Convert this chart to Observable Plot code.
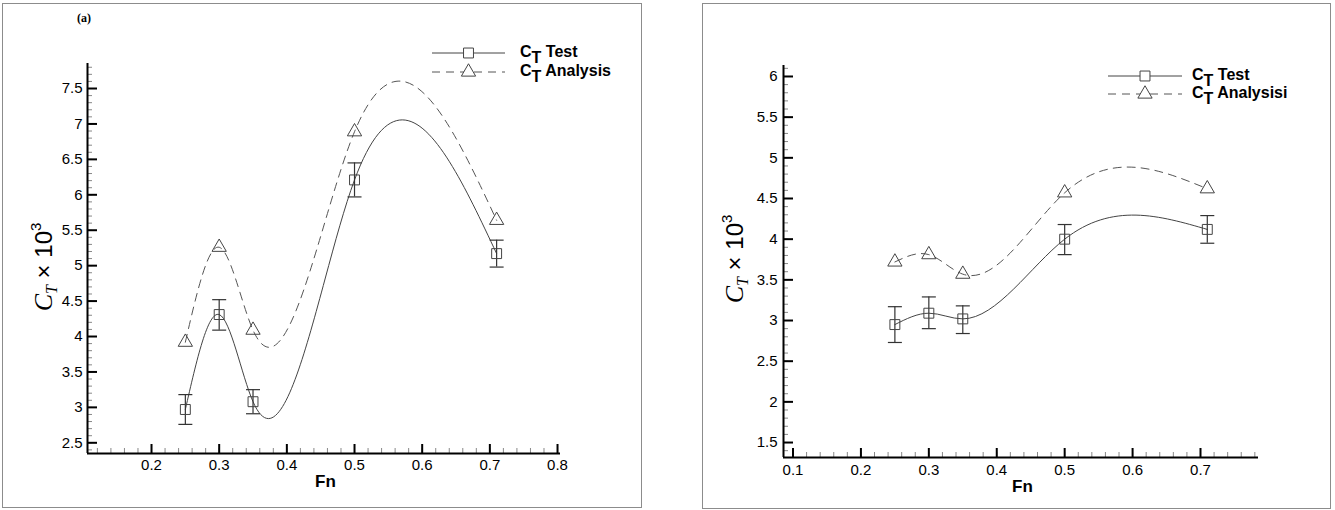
<!DOCTYPE html>
<html><head><meta charset="utf-8">
<script src="https://cdn.jsdelivr.net/npm/d3@7"></script>
<script src="https://cdn.jsdelivr.net/npm/@observablehq/plot@0.6"></script>
<style>
html,body{margin:0;padding:0;background:#fff;}
#root{position:relative;width:1335px;height:510px;overflow:hidden;font-family:"Liberation Sans",Arial,sans-serif;}
.frame{position:absolute;border:1px solid #8c8c8c;box-sizing:border-box;}
.panel{position:absolute;top:0;}
.panel svg{max-width:none;background:transparent;}
</style></head><body><div id="root"></div>
<script>
// ---------- data ----------
const fn = [0.25, 0.30, 0.35, 0.50, 0.71];
// panel (a)
const testA     = [2.97, 4.31, 3.08, 6.21, 5.17];
const testALo   = [2.76, 4.09, 2.91, 5.97, 4.98];
const testAHi   = [3.18, 4.52, 3.25, 6.45, 5.36];
const analysisA = [3.92, 5.26, 4.09, 6.89, 5.64];
// panel (b)
const testB     = [2.95, 3.09, 3.02, 4.00, 4.12];
const testBLo   = [2.73, 2.90, 2.84, 3.81, 3.95];
const testBHi   = [3.17, 3.29, 3.18, 4.18, 4.29];
const analysisB = [3.72, 3.81, 3.57, 4.57, 4.62];
// tick labels
const xTicksA = [0.2, 0.3, 0.4, 0.5, 0.6, 0.7, 0.8];
const yTicksA = [2.5, 3, 3.5, 4, 4.5, 5, 5.5, 6, 6.5, 7, 7.5];
const xTicksB = [0.1, 0.2, 0.3, 0.4, 0.5, 0.6, 0.7];
const yTicksB = [1.5, 2, 2.5, 3, 3.5, 4, 4.5, 5, 5.5, 6];
const legendA = ["Test", "Analysis"];
const legendB = ["Test", "Analysisi"];
const axisXLabel = "Fn";
const panelTag = "(a)";

// natural cubic spline y(x) curve (Tecplot-style spline)
function splineX(context) {
  let xs, ys;
  return {
    areaStart() {}, areaEnd() {},
    lineStart() { xs = []; ys = []; },
    point(x, y) { xs.push(+x); ys.push(+y); },
    lineEnd() {
      const n = xs.length;
      if (!n) return;
      context.moveTo(xs[0], ys[0]);
      if (n === 1) return;
      if (n === 2) { context.lineTo(xs[1], ys[1]); return; }
      const h = [], s = [];
      for (let i = 0; i < n - 1; i++) { h[i] = xs[i + 1] - xs[i]; s[i] = (ys[i + 1] - ys[i]) / h[i]; }
      const m = n - 2, a = [], b = [], c = [], d = [];
      for (let k = 0; k < m; k++) {
        const i = k + 1;
        a[k] = h[i - 1]; b[k] = 2 * (h[i - 1] + h[i]); c[k] = h[i]; d[k] = 6 * (s[i] - s[i - 1]);
      }
      for (let k = 1; k < m; k++) { const w = a[k] / b[k - 1]; b[k] -= w * c[k - 1]; d[k] -= w * d[k - 1]; }
      const M = new Array(n).fill(0);
      for (let k = m - 1; k >= 0; k--) M[k + 1] = (d[k] - (k < m - 1 ? c[k] * M[k + 2] : 0)) / b[k];
      for (let i = 0; i < n - 1; i++) {
        const d0 = s[i] - h[i] * (2 * M[i] + M[i + 1]) / 6;
        const d1 = s[i] + h[i] * (M[i] + 2 * M[i + 1]) / 6;
        context.bezierCurveTo(xs[i] + h[i] / 3, ys[i] + d0 * h[i] / 3,
                              xs[i + 1] - h[i] / 3, ys[i + 1] - d1 * h[i] / 3,
                              xs[i + 1], ys[i + 1]);
      }
    }
  };
}

const capSymbol = { draw(ctx, size) { const w = Math.sqrt(size / Math.PI); ctx.moveTo(-w, 0); ctx.lineTo(w, 0); } };

const SANS = "Liberation Sans, Arial, sans-serif";
const SERIF = "Liberation Serif, Times New Roman, serif";
const LINE = "#444", DASH = "#555";

function minor(domain, step) {
  const out = [];
  for (let k = Math.ceil(domain[0] / step - 1e-9); k * step <= domain[1] + 1e-9; k++) out.push(+(k * step).toFixed(4));
  return out;
}

function makePanel(cfg) {
  const {test, lo, hi, analysis, xTicks, yTicks, xDomain, yDomain, width, height, mt, mr, mb, ml, padX, padY} = cfg;
  const rows = fn.map((x, i) => ({x, t: test[i], lo: lo[i], hi: hi[i], a: analysis[i]}));
  const pw = width - ml - mr, ph = height - mt - mb;
  const plot = Plot.plot({
    width, height, marginTop: mt, marginRight: mr, marginBottom: mb, marginLeft: ml,
    x: {domain: xDomain}, y: {domain: yDomain},
    style: {fontFamily: SANS, fontSize: "15px", color: "#000", background: "transparent", overflow: "visible"},
    marks: [
      Plot.tickX(minor(xDomain, 0.02), {x: d => d, insetTop: ph - 5, stroke: "#888", strokeWidth: 1}),
      Plot.tickX(xTicks, {x: d => d, insetTop: ph - 9, stroke: "#000", strokeWidth: 2}),
      Plot.tickY(minor(yDomain, 0.1), {y: d => d, insetRight: pw - 5, stroke: "#888", strokeWidth: 1}),
      Plot.tickY(yTicks, {y: d => d, insetRight: pw - 10, stroke: "#000", strokeWidth: 2}),
      Plot.ruleY([yDomain[0]], {stroke: "#000", strokeWidth: 2}),
      Plot.ruleX([xDomain[0]], {stroke: "#000", strokeWidth: 2}),
      Plot.axisX(xTicks, {anchor: "bottom", tickSize: 0, tickPadding: padX, label: null, tickFormat: d => String(d), fontSize: 15}),
      Plot.axisY(yTicks, {anchor: "left", tickSize: 0, tickPadding: padY, label: null, tickFormat: d => String(d), fontSize: 15}),
      Plot.line(rows, {x: "x", y: "a", curve: splineX, stroke: DASH, strokeWidth: 1, strokeDasharray: "8,6"}),
      Plot.line(rows, {x: "x", y: "t", curve: splineX, stroke: LINE, strokeWidth: 1}),
      Plot.ruleX(rows, {x: "x", y1: "lo", y2: "hi", stroke: "#333", strokeWidth: 1.2}),
      Plot.dot(rows, {x: "x", y: "lo", symbol: capSymbol, r: 7, stroke: "#333", strokeWidth: 1.2, fill: "none"}),
      Plot.dot(rows, {x: "x", y: "hi", symbol: capSymbol, r: 7, stroke: "#333", strokeWidth: 1.2, fill: "none"}),
      Plot.dot(rows, {x: "x", y: "t", symbol: "square", r: 5.6, stroke: LINE, strokeWidth: 1, fill: "none"}),
      Plot.dot(rows, {x: "x", y: "a", symbol: "triangle", r: 5.3, stroke: LINE, strokeWidth: 1, fill: "none"})
    ]
  });
  return plot;
}

function decorate(svgNode, cfg) {
  const svg = d3.select(svgNode);
  const {ml, mr, width, fnBase, yLab, legend, legendNames} = cfg;
  // x label
  svg.append("text").attr("x", (ml + width - mr) / 2 + 2).attr("y", fnBase)
    .attr("text-anchor", "middle").attr("font-family", SANS).attr("font-weight", "bold")
    .attr("font-size", 17).attr("fill", "#000").text(axisXLabel);
  // y label
  const t = svg.append("text").attr("transform", `translate(${yLab[0]},${yLab[1]}) rotate(-90)`)
    .attr("y", 9).attr("text-anchor", "middle").attr("fill", "#000");
  t.append("tspan").attr("font-family", SERIF).attr("font-style", "italic").attr("font-size", 26).text("C");
  t.append("tspan").attr("font-family", SERIF).attr("font-style", "italic").attr("font-size", 16).attr("dy", 5).text("T");
  t.append("tspan").attr("font-family", SANS).attr("font-size", 24).attr("dy", -5).text(" \u00D7 10");
  t.append("tspan").attr("font-family", SANS).attr("font-size", 15).attr("dy", -11).text("3");
  // legend
  const [lx1, lx2, ly1, ly2, tx] = legend;
  const rowsY = [ly1, ly2];
  legendNames.forEach((name, i) => {
    const y = rowsY[i];
    svg.append("line").attr("x1", lx1).attr("x2", lx2).attr("y1", y).attr("y2", y)
      .attr("stroke", i ? DASH : LINE).attr("stroke-width", 1).attr("stroke-dasharray", i ? "8,6" : null);
    const sym = i ? d3.symbolTriangle : d3.symbolSquare;
    const r = i ? 5.3 : 5.6;
    svg.append("path").attr("d", d3.symbol(sym, r * r * Math.PI)())
      .attr("transform", `translate(${(lx1 + lx2) / 2},${y})`)
      .attr("fill", "#fff").attr("stroke", LINE).attr("stroke-width", 1);
    const tt = svg.append("text").attr("x", tx).attr("y", y + 4).attr("text-anchor", "start")
      .attr("font-family", SANS).attr("font-weight", "bold").attr("font-size", 16).attr("fill", "#000");
    tt.append("tspan").text("C");
    tt.append("tspan").attr("dy", 6).attr("font-size", 16).text("T");
    tt.append("tspan").attr("dy", -6).text(" " + name);
  });
}

const root = document.getElementById("root");
function addFrame(l, t, w, h) {
  const f = document.createElement("div");
  f.className = "frame";
  Object.assign(f.style, {left: l + "px", top: t + "px", width: w + "px", height: h + "px"});
  root.appendChild(f);
}
addFrame(2, 3, 640, 505);
addFrame(702, 3, 629, 506);

const cfgA = {
  test: testA, lo: testALo, hi: testAHi, analysis: analysisA,
  xTicks: xTicksA, yTicks: yTicksA, xDomain: [0.1054, 0.8044], yDomain: [2.349, 7.853],
  width: 645, height: 510, mt: 63, mr: 85, mb: 57, ml: 87, padX: 6, padY: 5,
  fnBase: 487, yLab: [43, 267], legend: [432, 505, 53, 72, 520], legendNames: legendA
};
const cfgB = {
  test: testB, lo: testBLo, hi: testBHi, analysis: analysisB,
  xTicks: xTicksB, yTicks: yTicksB, xDomain: [0.086, 0.7854], yDomain: [1.316, 6.135],
  width: 655, height: 510, mt: 65, mr: 77, mb: 53, ml: 103, padX: 7, padY: 6,
  fnBase: 492, yLab: [54, 259], legend: [428, 502, 76, 94, 512], legendNames: legendB
};

[[cfgA, 0], [cfgB, 680]].forEach(([cfg, left]) => {
  const div = document.createElement("div");
  div.className = "panel";
  div.style.left = left + "px";
  const p = makePanel(cfg);
  div.appendChild(p);
  root.appendChild(div);
  decorate(p, cfg);
});

// panel tag
const tagSvg = d3.select(root).select(".panel svg");
tagSvg.append("text").attr("x", 84).attr("y", 22).attr("text-anchor", "middle")
  .attr("font-family", SERIF).attr("font-weight", "bold").attr("font-size", 12).attr("fill", "#000").text(panelTag);
</script></body></html>
